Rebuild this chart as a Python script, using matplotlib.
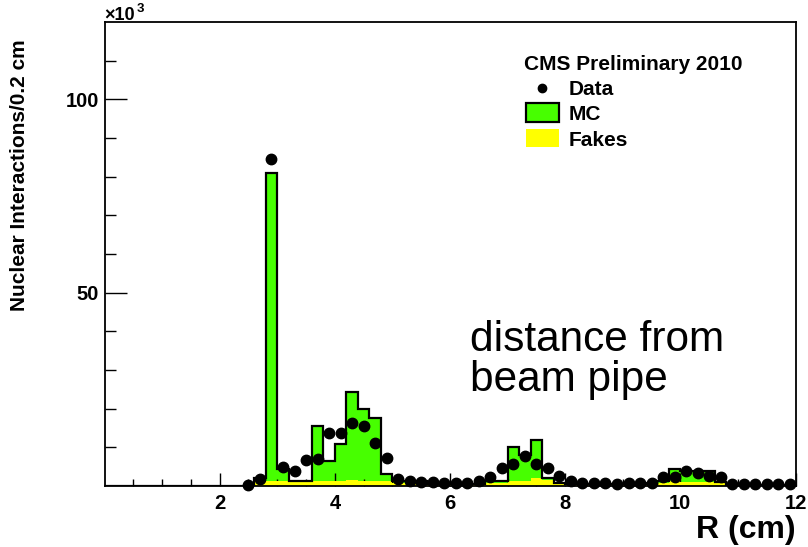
import numpy as np
import matplotlib
matplotlib.use("Agg")
import matplotlib.pyplot as plt
from matplotlib.patches import Rectangle
from matplotlib.lines import Line2D

# ---- data (units of 10^3, bins of 0.2 cm from 0 to 12) ----
bin_edges = np.round(np.arange(0.0, 12.0001, 0.2), 1)

mc = [0, 0, 0, 0, 0, 0, 0, 0, 0, 0, 0, 0, 0,          # 0.0 - 2.4
      2.1, 81.0, 4.5, 1.4, 1.4, 15.4, 6.4, 10.8, 24.2, 20.0, 17.6, 3.2,   # 2.6 - 4.8
      1.2, 1.2, 1.2, 0.6, 0.6, 0.6, 0.6, 0.6, 1.2, 1.2,                 # 5.0 - 6.8
      10.1, 8.1, 11.8, 2.1, 0.8,                                        # 7.0 - 7.8
      0.6, 0.6, 0.6, 0.6, 0.6, 0.6, 0.6, 0.8, 1.4,                      # 8.0 - 9.6
      4.5, 3.9, 3.9, 3.9, 1.0,                                          # 9.8 - 10.6
      0.3, 0.3, 0.3, 0.3, 0.3, 0.3]                                     # 10.8 - 11.8

fakes = [0, 0, 0, 0, 0, 0, 0, 0, 0, 0, 0, 0, 0,
         1.4, 1.4, 1.3, 1.2, 1.2, 1.4, 1.3, 1.4, 1.5, 1.4, 1.4, 1.3,
         0.8, 0.8, 0.7, 0.5, 0.5, 0.5, 0.5, 0.5, 0.7, 0.7,
         1.4, 1.4, 2.1, 1.5, 0.6,
         0.5, 0.5, 0.5, 0.5, 0.5, 0.5, 0.5, 0.5, 0.7,
         1.3, 1.1, 1.1, 1.1, 0.7,
         0.3, 0.3, 0.3, 0.3, 0.3, 0.3]

data = [0, 0, 0, 0, 0, 0, 0, 0, 0, 0, 0, 0,
        0.3, 1.9, 84.5, 4.8, 3.9, 6.6, 6.9, 13.6, 13.6, 16.4, 15.4, 11.2, 7.3,
        1.9, 1.4, 1.0, 1.0, 0.8, 0.8, 0.8, 1.2, 2.3, 4.6,
        5.8, 7.7, 5.8, 4.6, 2.5,
        1.3, 0.8, 0.8, 0.7, 0.6, 0.7, 0.7, 0.8, 2.3, 2.3,
        3.9, 3.3, 2.5, 2.3, 0.6,
        0.5, 0.5, 0.5, 0.5, 0.5]

x_ticks = [2, 4, 6, 8, 10, 12]
y_ticks = [50, 100]

GREEN = "#47ff00"
YELLOW = "#ffff00"
FONT = "Liberation Sans"

W, H = 808, 547
fig = plt.figure(figsize=(W / 100, H / 100), dpi=100)

def fx(px):
    return px / W

def fy(py):
    return 1 - py / H

ax_left, ax_right, ax_top, ax_bot = 104.5, 795.5, 22.0, 486.0
ax = fig.add_axes([fx(ax_left), fy(ax_bot), (ax_right - ax_left) / W, (ax_bot - ax_top) / H])

mc = np.array(mc, float)
fakes = np.array(fakes, float)
data = np.array(data, float)
centers = 0.5 * (bin_edges[:-1] + bin_edges[1:])

ax.stairs(mc, bin_edges, fill=True, color=GREEN, lw=0, zorder=1)
ax.stairs(fakes, bin_edges, fill=True, color=YELLOW, lw=0, zorder=2)
ax.stairs(mc, bin_edges, fill=False, color="black", lw=1.6, zorder=3)
mask = data > 0
ax.plot(centers[mask], data[mask], "o", color="black", ms=7.5, zorder=4, clip_on=False)

ax.set_xlim(0, 12)
ax.set_ylim(0, 120)
ax.set_xticks(x_ticks)
ax.set_xticklabels([str(v) for v in x_ticks])
ax.set_xticks(np.arange(0.5, 12, 0.5), minor=True)
ax.set_yticks(y_ticks)
ax.set_yticklabels([str(v) for v in y_ticks])
ax.set_yticks(np.arange(10, 120, 10), minor=True)

for s in ["top", "right", "bottom", "left"]:
    ax.spines[s].set_linewidth(1.3)

ax.tick_params(axis="x", which="major", direction="in", length=9.5, width=1.0, pad=6,
               top=False, labelsize=14.5)
ax.tick_params(axis="x", which="minor", direction="in", length=4.8, width=1.0, top=False)
ax.tick_params(axis="y", which="major", direction="in", length=15.5, width=1.0, pad=4,
               right=False, labelsize=14.5)
ax.tick_params(axis="y", which="minor", direction="in", length=8.0, width=1.0, right=False)
for lab in ax.get_xticklabels() + ax.get_yticklabels():
    lab.set_fontfamily(FONT)
    lab.set_fontweight("bold")

# axis titles
fig.text(fx(796), fy(545), "R (cm)", ha="right", va="bottom", fontsize=23,
         fontweight="bold", family=FONT)
fig.text(fx(20), fy(39), "Nuclear Interactions/0.2 cm", rotation=90, ha="center", va="top",
         fontsize=15, fontweight="bold", family=FONT)
fig.text(fx(104), fy(19.5), "\u00d710", ha="left", va="baseline", fontsize=13,
         fontweight="bold", family=FONT)
fig.text(fx(136.5), fy(12), "3", ha="left", va="baseline", fontsize=9.5,
         fontweight="bold", family=FONT)

# annotation
fig.text(fx(470), fy(351), "distance from", ha="left", va="baseline", fontsize=30.5, family=FONT)
fig.text(fx(470), fy(391), "beam pipe", ha="left", va="baseline", fontsize=30.5, family=FONT)

# legend
fig.text(fx(524), fy(65), "CMS Preliminary 2010", ha="left", va="center", fontsize=15,
         fontweight="bold", family=FONT)
fig.add_artist(Line2D([fx(542)], [fy(88)], marker="o", color="black", ms=6, lw=0))
fig.text(fx(569), fy(90), "Data", ha="left", va="center", fontsize=15, fontweight="bold", family=FONT)
fig.add_artist(Rectangle((fx(526), fy(122)), (559 - 526) / W, (122 - 103) / H,
                         facecolor=GREEN, edgecolor="black", lw=1.6))
fig.text(fx(569), fy(115), "MC", ha="left", va="center", fontsize=15, fontweight="bold", family=FONT)
fig.add_artist(Rectangle((fx(526), fy(147)), (559 - 526) / W, (147 - 129) / H,
                         facecolor=YELLOW, edgecolor="none"))
fig.text(fx(569), fy(140), "Fakes", ha="left", va="center", fontsize=15, fontweight="bold", family=FONT)

fig.savefig("out.png", dpi=100)
